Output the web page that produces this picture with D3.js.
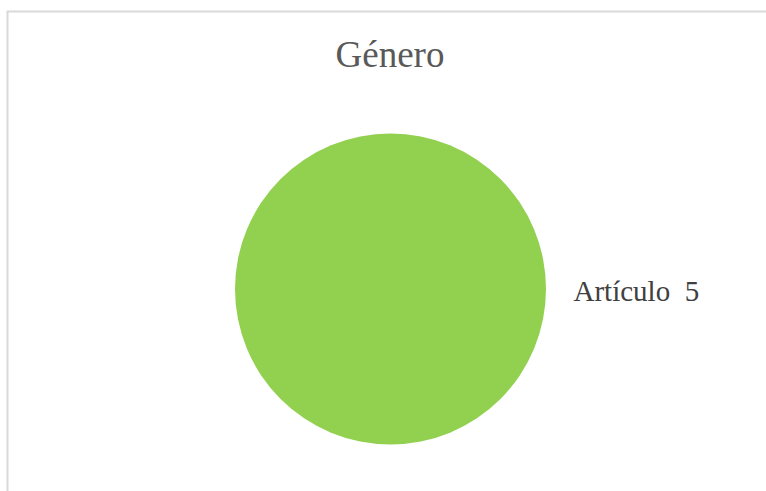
<!DOCTYPE html>
<html>
<head>
<meta charset="utf-8">
<script src="https://cdn.jsdelivr.net/npm/d3@7"></script>
<style>
  html, body { margin: 0; padding: 0; background: #fff; }
  svg { display: block; }
</style>
</head>
<body>
<svg id="chart" width="766" height="491"></svg>
<script>
const categories = ["Artículo"];
const values = [5];
const title = "Género";

const svg = d3.select("#chart");
const W = 766, H = 491;

// chart area frame (runs off the right and bottom edges)
svg.append("rect")
  .attr("x", 7.5).attr("y", 11.5)
  .attr("width", W + 20).attr("height", H + 20)
  .attr("fill", "#fff")
  .attr("stroke", "#d9d9d9").attr("stroke-width", 2);

svg.append("text")
  .attr("x", 390).attr("y", 67)
  .attr("text-anchor", "middle")
  .attr("font-family", "'Liberation Serif', 'Times New Roman', serif")
  .attr("font-size", 37)
  .attr("fill", "#595959")
  .text(title);

const cx = 390.5, cy = 289, r = 155.5;
const pie = d3.pie().sort(null).value(d => d.value);
const data = categories.map((c, i) => ({ name: c, value: values[i] }));
const arcs = pie(data);
const arc = d3.arc().innerRadius(0).outerRadius(r);

const g = svg.append("g").attr("transform", `translate(${cx},${cy})`);
g.selectAll("path").data(arcs).enter().append("path")
  .attr("d", arc)
  .attr("fill", "#92d050");

// data labels to the right of the pie
g.selectAll("text.lbl").data(arcs).enter().append("text")
  .attr("class", "lbl")
  .attr("x", r + 27.5).attr("y", 12)
  .attr("font-family", "'Liberation Serif', 'Times New Roman', serif")
  .attr("font-size", 29)
  .attr("fill", "#404040")
  .attr("xml:space", "preserve")
  .style("white-space", "pre")
  .text(d => `${d.data.name}  ${d.data.value}`);
</script>
</body>
</html>
